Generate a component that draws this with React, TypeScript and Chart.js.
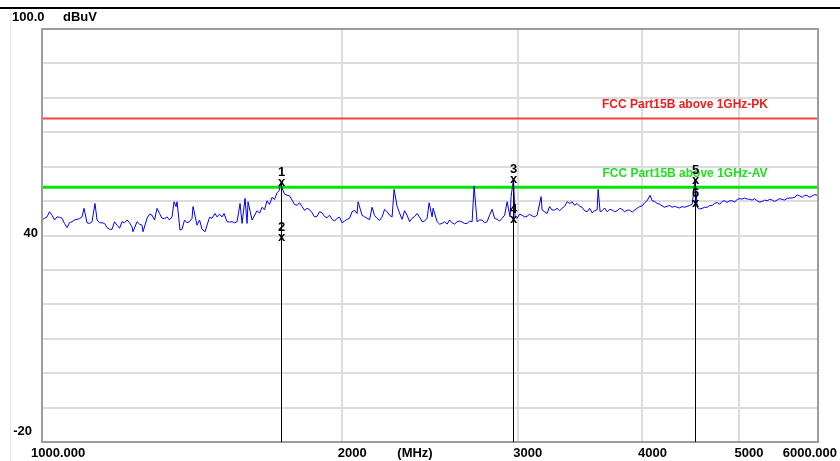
import React, { useEffect, useRef } from 'react';
import { Chart, registerables } from 'chart.js';

Chart.register(...registerables);

// ---- data ----
const traceFreqMHz = [
  1000, 1011.6, 1023.4, 1035.2, 1047.3, 1059.5, 1071.8, 1084.2, 1096.8, 1101.9, 1109.5, 1122.4, 1130.2, 1135.5, 1148.7, 1162.0, 1175.5, 1189.2, 1203.0, 1217.0, 1231.1, 1233.9, 1245.4, 1259.8, 1262.7, 1274.4, 1289.2, 1304.2, 1319.4, 1334.7, 1350.2, 1356.4, 1362.7, 1365.9, 1375.3, 1381.7, 1397.8, 1414.0, 1417.3, 1430.5, 1447.1, 1457.2, 1463.9, 1480.9, 1491.2, 1498.1, 1515.5, 1522.5, 1533.1, 1550.9, 1568.9,
  1579.8, 1587.1, 1598.1, 1605.5, 1609.2, 1624.2, 1643.0, 1662.1, 1681.4, 1701.0, 1720.7, 1735, 1740.7, 1760.9, 1781.4, 1802.1, 1823.0, 1844.2, 1865.6, 1887.3, 1909.2, 1931.4, 1953.8, 1976.5, 1999.4, 2022.6, 2046.1, 2069.9, 2074.7, 2093.9, 2118.2, 2142.9, 2167.8, 2193.0, 2218.4, 2244.2, 2254.6, 2270.2, 2296.6, 2323.3, 2350.3, 2377.6, 2405.2, 2433.2, 2444.5, 2461.5,
  2467.2, 2490.0, 2518.8, 2548.1, 2577.7, 2607.6, 2637.9, 2668.6, 2699.6, 2712.1, 2730.9, 2762.7, 2794.7, 2827.2, 2860.0, 2893.3, 2926.9, 2947.2, 2954.0, 2970, 2981.5, 2995.3, 3030.1, 3065.3, 3100.9, 3136.9, 3165.9, 3173.2, 3210.0, 3247.3, 3285.0, 3323.2, 3361.8, 3400.8, 3440.3, 3480.3, 3520.8, 3561.7, 3603.0, 3611.3, 3628.0, 3644.9, 3687.2, 3730.1, 3773.4, 3817.3, 3861.6,
  3906.5, 3951.9, 3997.5, 4043.9, 4072.0, 4091.0, 4138.4, 4186.6, 4235.2, 4284.3, 4334.1, 4384.5, 4435.4, 4487.0, 4518, 4539.1, 4591.7, 4645.1, 4699.1, 4753.7, 4808.9, 4864.8, 4921.3, 4978.5, 5036.0, 5094.5, 5153.7, 5213.5, 5274.1, 5335.4, 5397.4, 5460.0, 5523.4, 5587.6, 5652.6, 5718.2, 5784.6, 5851.8, 5919.9, 5988.6, 6000,
];
const traceLevel = [
  44.5, 45.4, 45.9, 45.4, 45.0, 42.3, 44.0, 44.7, 45.4, 47.9, 43.7, 44.0, 49.3, 44.5, 43.7, 42.3, 41.8, 43.0, 44.0, 44.5, 42.5, 41.1, 44.0, 43.0, 41.1, 45.0, 45.9, 47.9, 45.0, 45.4, 45.4, 49.8, 48.4, 49.8, 41.6, 41.8, 43.7, 45.0, 48.4, 43.0, 41.8, 41.1, 43.0, 45.0, 46.4, 45.4, 45.4, 46.4, 44.0, 44.0, 44.0,
  49.3, 43.5, 50.8, 43.5, 49.8, 44.5, 47.2, 48.2, 50.1, 51.1, 52.4, 55.2, 53.8, 51.7, 50.3, 48.8, 48.4, 47.9, 46.6, 45.6, 46.6, 45.2, 44.7, 45.0, 43.7, 44.7, 46.9, 46.4, 49.8, 45.9, 45.0, 48.2, 45.0, 45.4, 46.9, 45.4, 53.4, 48.5, 44.7, 45.9, 45.0, 46.4, 44.0, 45.0, 49.5, 45.4,
  47.9, 44.0, 43.5, 43.3, 43.7, 44.0, 43.9, 43.5, 44.0, 54.4, 44.0, 44.5, 44.0, 47.6, 44.7, 45.0, 49.8, 45.4, 51.3, 56.4, 45.4, 45.0, 45.9, 45.6, 45.7, 45.9, 51.3, 47.4, 46.4, 47.4, 47.9, 47.9, 49.8, 49.8, 49.3, 48.2, 46.9, 46.6, 47.5, 53.4, 46.9, 47.2, 46.9, 47.4, 47.2, 47.6, 47.3,
  46.8, 47.9, 48.6, 50.1, 51.7, 50.1, 49.3, 48.6, 48.5, 48.2, 48.2, 48.4, 48.5, 49.1, 56.2, 48.2, 47.9, 48.2, 48.7, 49.6, 49.9, 49.6, 50.1, 50.5, 50.6, 50.6, 50.3, 50.1, 49.9, 50.1, 50.3, 50.3, 50.5, 50.8, 50.9, 51.8, 51.1, 51.6, 51.5, 51.7, 51.4,
];
// in-between readings of the same trace
const traceMidFreqMHz = [
  1005.8, 1017.5, 1029.3, 1041.2, 1053.4, 1065.6, 1078.0, 1090.5, 1115.9, 1142.1, 1155.4, 1168.7, 1182.3, 1196.1, 1210.0, 1224.0, 1252.6, 1281.8, 1296.7, 1311.8, 1327.0, 1342.4, 1389.7, 1405.9, 1438.8, 1472.4, 1506.8, 1542.0, 1559.9,
  1652.5, 1671.7, 1691.1, 1710.8, 1728.7, 1750.8, 1771.1, 1791.7, 1812.5, 1833.6, 1854.9, 1876.4, 1898.2, 1920.3, 1942.6, 1965.1, 1988.0, 2011.0, 2034.3, 2058.0, 2106.0, 2130.5, 2155.3, 2180.4, 2205.7, 2231.2, 2283.3, 2309.9, 2336.8, 2363.9, 2391.4, 2419.1,
  2504.4, 2533.4, 2562.9, 2592.6, 2622.7, 2653.2, 2684.1, 2746.7, 2778.7, 2810.9, 2843.6, 2876.6, 2910.1, 3012.6, 3047.6, 3083.1, 3118.9, 3191.6, 3228.6, 3266.1, 3304.0, 3342.4, 3381.3, 3420.5, 3460.2, 3500.5, 3541.2, 3582.3, 3666.0, 3708.6, 3751.7, 3795.3, 3839.4,
  3884.0, 3929.1, 3974.8, 4020.6, 4114.7, 4162.4, 4210.8, 4259.7, 4309.1, 4359.2, 4409.9, 4461.1, 4565.4, 4618.3, 4672.0, 4726.3, 4781.2, 4836.7, 4893.0, 4949.8, 5007.3, 5065.2, 5124.0, 5183.5, 5243.7, 5304.6, 5366.3, 5428.7, 5491.6, 5555.4, 5620.0, 5685.3, 5751.3, 5818.1, 5885.7, 5954.2,
];
const traceMidLevel = [
  45.0, 46.9, 44.5, 45.3, 43.5, 43.7, 44.5, 44.9, 43.5, 43.7, 43.5, 41.8, 44.0, 42.1, 43.7, 43.7, 43.3, 46.2, 44.5, 46.4, 44.9, 44.5, 44.5, 44.0, 44.5, 45.3, 46.2, 43.9, 43.7,
  46.5, 47.5, 49.0, 50.5, 53.0, 52.0, 51.5, 49.0, 49.5, 47.3, 47.5, 45.4, 46.9, 45.5, 45.9, 44.2, 45.3, 44.2, 45.0, 47.3, 45.4, 44.6, 45.8, 44.4, 47.6, 45.9, 46.5, 47.2, 44.0, 45.5, 45.3, 44.2,
  43.3, 44.0, 44.5, 43.3, 44.2, 43.5, 44.2, 44.5, 43.7, 45.9, 45.0, 44.2, 45.9, 46.2, 45.4, 46.2, 45.4, 46.9, 48.4, 47.4, 47.2, 48.5, 49.3, 48.8, 48.5, 47.2, 47.9, 47.2, 48.0, 47.6, 46.9, 47.9, 46.9,
  47.4, 47.4, 48.4, 49.5, 49.9, 49.1, 48.2, 48.7, 48.5, 48.0, 48.2, 48.7, 47.7, 48.2, 48.7, 49.3, 49.1, 50.1, 50.1, 49.7, 50.7, 50.9, 50.5, 50.7, 49.7, 50.3, 50.5, 49.9, 50.7, 50.3, 50.9, 51.1, 51.5, 51.7, 51.1, 51.9,
];

const limitFreqMHz = [1000, 6000];
const limitPKLevel = [74, 74];
const limitAVLevel = [54, 54];
const limitPKName = 'FCC Part15B above 1GHz-PK';
const limitAVName = 'FCC Part15B above 1GHz-AV';

const markerNo = ['1', '2', '3', '4', '5', '6'];
const markerFreqMHz = [1735, 1735, 2970, 2970, 4518, 4518];
const markerLevel = [55.4, 39.7, 56.4, 44.9, 56.2, 49.3];

const xTickValues = [1000, 2000, 3000, 4000, 5000, 6000];
const xTickLabels = ['1000.000', '2000', '3000', '4000', '5000', '6000.000'];
const xUnitLabel = '(MHz)';
const yTickValues = [100, 40, -20];
const yTickLabels = ['100.0', '40', '-20'];
const yUnitLabel = 'dBuV';
const yGridStep = 10;

const TICK_FONT = 'bold 13px "Liberation Sans", Arial, sans-serif';

const tracePoints = traceFreqMHz
  .map((f, i) => ({ x: f, y: traceLevel[i] }))
  .concat(traceMidFreqMHz.map((f, i) => ({ x: f, y: traceMidLevel[i] })))
  .sort((a, b) => a.x - b.x);

const overlayPlugin = {
  id: 'emcOverlay',
  beforeDraw(chart: any) {
    const ctx = chart.ctx;
    ctx.save();
    ctx.fillStyle = '#ffffff';
    ctx.fillRect(0, 0, chart.width, chart.height);
    ctx.fillStyle = '#000000';
    ctx.fillRect(0, 7, chart.width, 2);
    ctx.fillStyle = '#e8e8e8';
    ctx.fillRect(10, 10, 1, chart.height - 10);
    ctx.restore();
  },
  afterDatasetsDraw(chart: any) {
    const ctx = chart.ctx;
    const xs = chart.scales.x;
    const ys = chart.scales.y;
    const ca = chart.chartArea;
    ctx.save();

    // frame
    ctx.strokeStyle = '#9c9c9c';
    ctx.lineWidth = 2;
    ctx.strokeRect(ca.left, ca.top, ca.right - ca.left, ca.bottom - ca.top);

    // limit labels
    ctx.font = 'bold 12px "Liberation Sans", Arial, sans-serif';
    ctx.textAlign = 'center';
    ctx.textBaseline = 'alphabetic';
    ctx.fillStyle = '#f01c1c';
    ctx.fillText(limitPKName, ca.right - 133, ys.getPixelForValue(limitPKLevel[0]) - 10);
    ctx.fillStyle = '#1ee01e';
    ctx.fillText(limitAVName, ca.right - 133, ys.getPixelForValue(limitAVLevel[0]) - 10);

    // markers: vertical lines
    ctx.strokeStyle = '#000000';
    ctx.lineWidth = 1;
    const groups: Record<string, number> = {};
    markerFreqMHz.forEach((f, i) => {
      const k = String(f);
      groups[k] = groups[k] === undefined ? markerLevel[i] : Math.max(groups[k], markerLevel[i]);
    });
    Object.keys(groups).forEach((k) => {
      const px = Math.round(xs.getPixelForValue(Number(k))) + 0.5;
      const py = ys.getPixelForValue(groups[k]);
      ctx.beginPath();
      ctx.moveTo(px, py);
      ctx.lineTo(px, ca.bottom);
      ctx.stroke();
    });
    // marker glyphs
    ctx.fillStyle = '#000000';
    ctx.textAlign = 'center';
    markerFreqMHz.forEach((f, i) => {
      const px = Math.round(xs.getPixelForValue(f)) + 0.5;
      const py = ys.getPixelForValue(markerLevel[i]);
      ctx.font = 'bold 13px "Liberation Sans", Arial, sans-serif';
      ctx.fillText('x', px, py + 4);
      ctx.fillText(markerNo[i], px, py - 6);
    });

    // axis labels
    ctx.font = TICK_FONT;
    ctx.fillStyle = '#000000';
    xTickValues.forEach((v, i) => {
      const px = xs.getPixelForValue(v);
      const by = ca.bottom + 15;
      if (i === 0) {
        ctx.textAlign = 'left';
        ctx.fillText(xTickLabels[i], px - 11, by);
      } else if (i === xTickValues.length - 1) {
        ctx.textAlign = 'right';
        ctx.fillText(xTickLabels[i], px + 19, by);
      } else {
        ctx.textAlign = 'center';
        ctx.fillText(xTickLabels[i], px + 10, by);
      }
    });
    ctx.textAlign = 'center';
    ctx.fillText(xUnitLabel, ca.left + 373, ca.bottom + 15);

    const yOffsets = [-8, 1, -7];
    yTickValues.forEach((v, i) => {
      const py = ys.getPixelForValue(v) + yOffsets[i];
      if (i === 0) {
        ctx.textAlign = 'left';
        ctx.fillText(yTickLabels[i], 12, py);
        ctx.fillText(yUnitLabel, 63, py);
      } else if (i === 1) {
        ctx.textAlign = 'right';
        ctx.fillText(yTickLabels[i], 38, py);
      } else {
        ctx.textAlign = 'right';
        ctx.fillText(yTickLabels[i], 32, py);
      }
    });
    ctx.restore();
  },
};

export default function App() {
  const ref = useRef<HTMLCanvasElement | null>(null);
  useEffect(() => {
    document.body.style.margin = '0';
    const canvas = ref.current;
    if (!canvas) return;
    const chart = new Chart(canvas, {
      type: 'line',
      data: {
        datasets: [
          {
            label: 'Trace',
            data: tracePoints,
            borderColor: '#0000ff',
            borderWidth: 1,
            pointRadius: 0,
            tension: 0,
            order: 0,
          },
          {
            label: limitAVName,
            data: limitFreqMHz.map((f, i) => ({ x: f, y: limitAVLevel[i] })),
            borderColor: '#00e600',
            borderWidth: 3,
            pointRadius: 0,
            order: 1,
          },
          {
            label: limitPKName,
            data: limitFreqMHz.map((f, i) => ({ x: f, y: limitPKLevel[i] })),
            borderColor: '#ff4040',
            borderWidth: 2,
            pointRadius: 0,
            order: 2,
          },
        ],
      },
      options: {
        responsive: false,
        animation: false,
        events: [],
        layout: { padding: { left: 42, top: 29, right: 22, bottom: 19 } },
        plugins: { legend: { display: false }, tooltip: { enabled: false } },
        scales: {
          x: {
            type: 'logarithmic',
            min: 1000,
            max: 6000,
            ticks: { display: false },
            grid: { color: '#dcdcdc', lineWidth: 2, drawTicks: false },
            border: { display: false },
            afterBuildTicks: (s: any) => {
              s.ticks = xTickValues.map((v) => ({ value: v }));
            },
          },
          y: {
            type: 'linear',
            min: -20,
            max: 100,
            ticks: { display: false, stepSize: yGridStep },
            grid: { color: '#dcdcdc', lineWidth: 2, drawTicks: false },
            border: { display: false },
          },
        },
      },
      plugins: [overlayPlugin],
    } as any);
    return () => chart.destroy();
  }, []);
  return (
    <div style={{ width: 840, height: 461 }}>
      <canvas ref={ref} width={840} height={461} style={{ display: 'block' }} />
    </div>
  );
}
